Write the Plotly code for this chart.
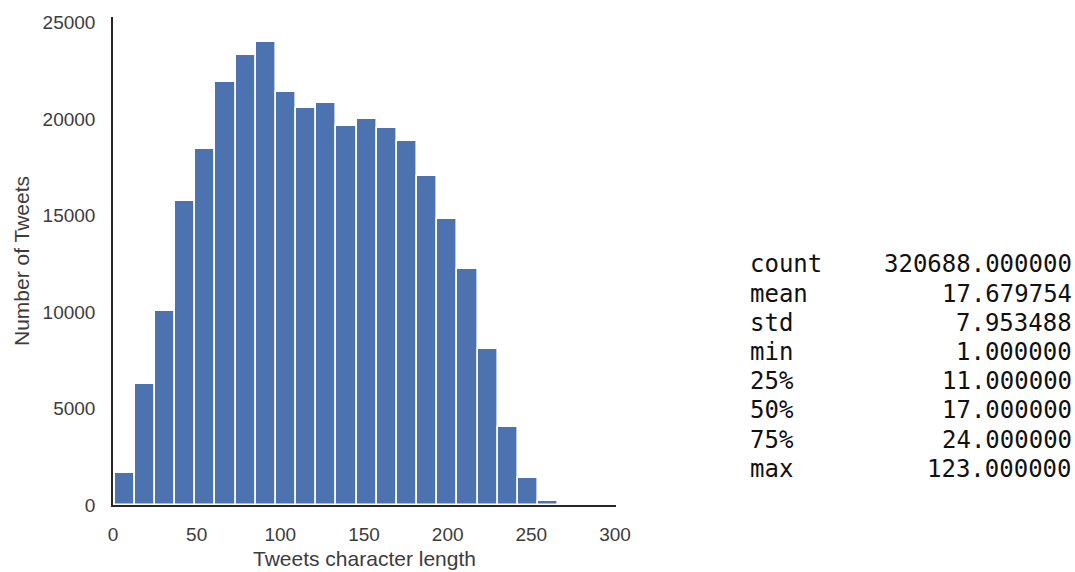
import numpy as np
import plotly.graph_objects as go

# Histogram of tweet character length: 22 populated bins starting at 1
bin_start = 1.0
bin_width = 12.05
tweet_counts = [1650, 6260, 10050, 15740, 18420, 21930, 23330, 23960, 21370,
                20550, 20820, 19630, 19990, 19530, 18880, 17020, 14810, 12200,
                8100, 4020, 1420, 230]

x_ticks = [0, 50, 100, 150, 200, 250, 300]
y_ticks = [0, 5000, 10000, 15000, 20000, 25000]

# Summary statistics (pandas describe) shown beside the plot
stat_names = ["count", "mean", "std", "min", "25%", "50%", "75%", "max"]
stat_values = ["320688.000000", "17.679754", "7.953488", "1.000000",
               "11.000000", "17.000000", "24.000000", "123.000000"]

W, H = 1075, 572
L, R, T, B = 113, 616, 12, 505  # plot area in pixels

edges = bin_start + bin_width * np.arange(len(tweet_counts) + 1)
centers = (edges[:-1] + edges[1:]) / 2

fig = go.Figure(go.Bar(
    x=centers,
    y=tweet_counts,
    width=bin_width,
    marker=dict(color="#4c72b0", line=dict(color="white", width=1.6)),
    hoverinfo="x+y",
))

tick_font = dict(family="Liberation Sans, Arial, sans-serif", size=19, color="#3c3c3c")
title_font = dict(family="Liberation Sans, Arial, sans-serif", size=21, color="#3c3c3c")

fig.update_layout(
    width=W, height=H,
    margin=dict(l=L, r=W - R, t=T, b=H - B, pad=0),
    paper_bgcolor="white", plot_bgcolor="white",
    bargap=0, showlegend=False,
    xaxis=dict(range=[0, 300.6], tickvals=x_ticks, ticktext=[str(v) for v in x_ticks],
               showgrid=False, zeroline=False,
               showline=True, linecolor="#262626", linewidth=1.5, ticks="",
               ticklabelstandoff=11, tickfont=tick_font, fixedrange=True),
    yaxis=dict(range=[0, 25280], tickvals=y_ticks, ticktext=[str(v) for v in y_ticks],
               showgrid=False, zeroline=False,
               showline=True, linecolor="#262626", linewidth=1.5, ticks="",
               ticklabelstandoff=12, tickfont=tick_font, fixedrange=True),
)

pw, ph = R - L, B - T

# Axis titles
fig.add_annotation(text="Tweets character length", xref="paper", yref="paper",
                   x=0.5, y=0, xanchor="center", yanchor="middle", yshift=-53,
                   showarrow=False, font=title_font)
fig.add_annotation(text="Number of Tweets", xref="paper", yref="paper",
                   x=0, y=0.5, xanchor="center", yanchor="middle", xshift=21 - L,
                   textangle=-90, showarrow=False, font=title_font)

# Statistics table: names left-aligned, values right-aligned
mono = dict(family="DejaVu Sans Mono, monospace", size=24, color="#111111")
row0, row_step = 262, 29.5
for i, (name, val) in enumerate(zip(stat_names, stat_values)):
    yp = (B - (row0 + i * row_step)) / ph
    fig.add_annotation(text=name, xref="paper", yref="paper",
                       x=(748 - L) / pw, y=yp, xanchor="left", yanchor="middle",
                       showarrow=False, font=mono)
    fig.add_annotation(text=val, xref="paper", yref="paper",
                       x=(1074 - L) / pw, y=yp, xanchor="right", yanchor="middle",
                       showarrow=False, font=mono)

fig.write_html("out.html")
